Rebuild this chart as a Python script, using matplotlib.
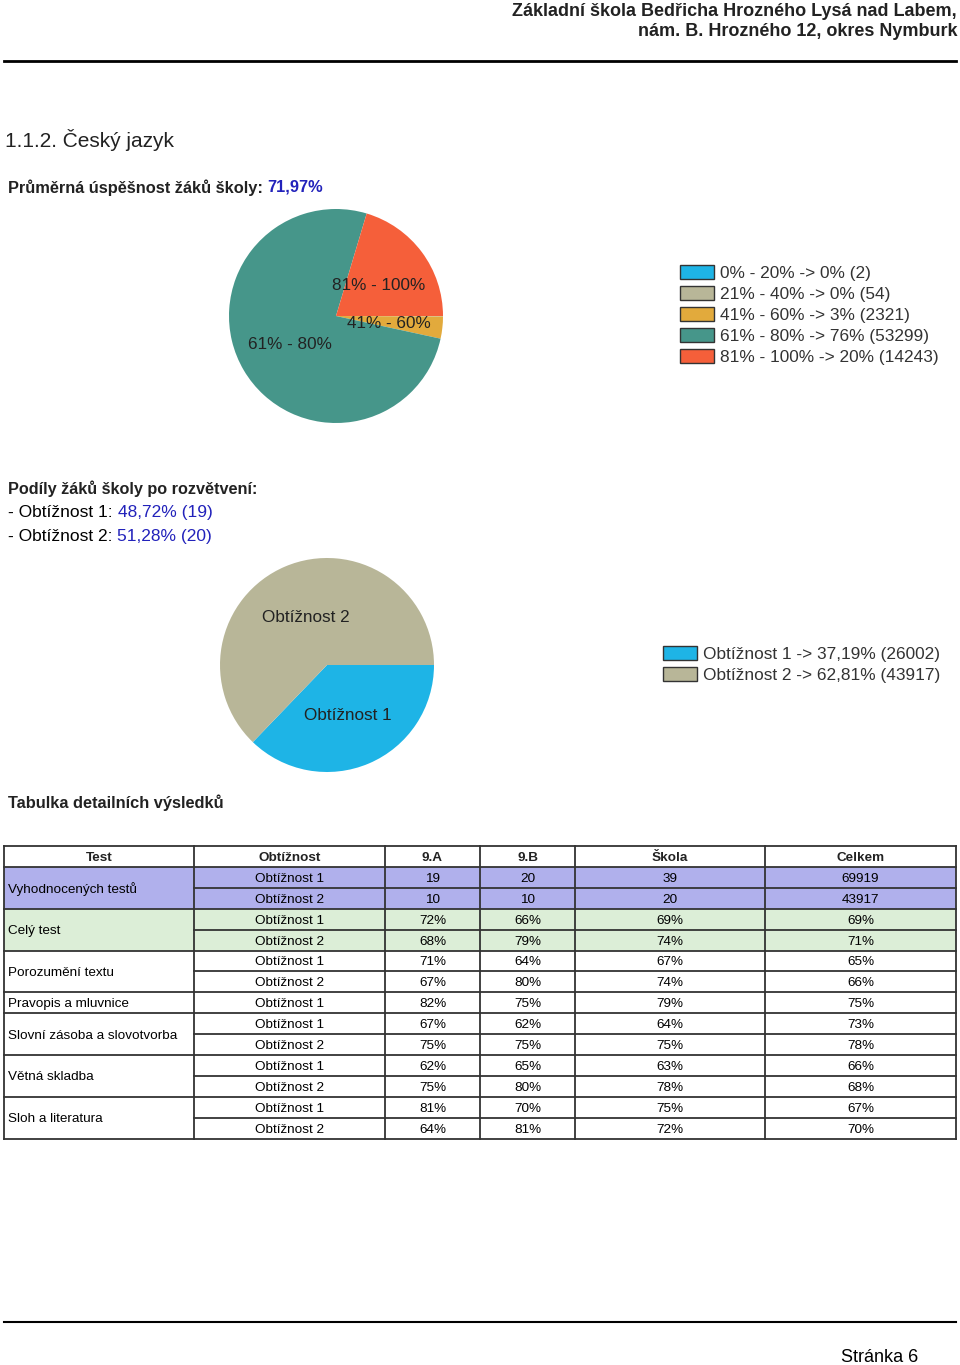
import matplotlib
matplotlib.use('Agg')
import matplotlib.pyplot as plt
from matplotlib.patches import Rectangle

plt.rcParams['font.family'] = ['Liberation Sans', 'DejaVu Sans']

# ---- data ----
pie1_labels = ['0% - 20%', '21% - 40%', '41% - 60%', '61% - 80%', '81% - 100%']
pie1_counts = [2, 54, 2321, 53299, 14243]
pie1_pct = ['0%', '0%', '3%', '76%', '20%']
pie1_colors = ['#1EB4E6', '#B8B698', '#E2AA3C', '#46968A', '#F55F3A']

pie2_labels = ['Obtížnost 1', 'Obtížnost 2']
pie2_counts = [26002, 43917]
pie2_pct = ['37,19%', '62,81%']
pie2_colors = ['#1EB4E6', '#B8B698']

avg_success = '71,97%'
branch_share = ['48,72% (19)', '51,28% (20)']

columns = ['Test', 'Obtížnost', '9.A', '9.B', 'Škola', 'Celkem']
groups = ['Vyhodnocených testů', 'Celý test', 'Porozumění textu', 'Pravopis a mluvnice',
          'Slovní zásoba a slovotvorba', 'Větná skladba', 'Sloh a literatura']
group_sizes = [2, 2, 2, 1, 2, 2, 2]
group_colors = ['#B0B0EC', '#DCEED7', 'white', 'white', 'white', 'white', 'white']
difficulty = ['Obtížnost 1', 'Obtížnost 2', 'Obtížnost 1', 'Obtížnost 2', 'Obtížnost 1', 'Obtížnost 2',
              'Obtížnost 1', 'Obtížnost 1', 'Obtížnost 2', 'Obtížnost 1', 'Obtížnost 2',
              'Obtížnost 1', 'Obtížnost 2']
val_9a = ['19', '10', '72%', '68%', '71%', '67%', '82%', '67%', '75%', '62%', '75%', '81%', '64%']
val_9b = ['20', '10', '66%', '79%', '64%', '80%', '75%', '62%', '75%', '65%', '80%', '70%', '81%']
val_skola = ['39', '20', '69%', '74%', '67%', '74%', '79%', '64%', '75%', '63%', '78%', '75%', '72%']
val_celkem = ['69919', '43917', '69%', '71%', '65%', '66%', '75%', '73%', '78%', '66%', '68%', '67%', '70%']

W, H = 960, 1365
fig = plt.figure(figsize=(W / 100, H / 100), dpi=100)
ax = fig.add_axes([0, 0, 1, 1])
ax.set_xlim(0, W)
ax.set_ylim(H, 0)
ax.axis('off')

dark = '#222222'
blue = '#2222BB'
VA = 'center_baseline'


def text_pair(x, y, first, second, fs, weight='normal', c1=dark):
    # black label followed by a blue value on the same line
    t = ax.text(x, y, first, ha='left', va=VA, fontsize=fs, color=c1, fontweight=weight)
    fig.canvas.draw()
    bb = t.get_window_extent()
    x1 = ax.transData.inverted().transform((bb.x1, 0))[0]
    ax.text(x1, y, second, ha='left', va=VA, fontsize=fs, color=blue, fontweight=weight)


# header
ax.text(957, 10, 'Základní škola Bedřicha Hrozného Lysá nad Labem,', ha='right', va=VA,
        fontsize=13, color=dark, fontweight='bold')
ax.text(957, 29, 'nám. B. Hrozného 12, okres Nymburk', ha='right', va=VA,
        fontsize=13, color=dark, fontweight='bold')
ax.plot([4, 956], [61, 61], color='black', lw=2)

ax.text(5, 138, '1.1.2. Český jazyk', ha='left', va=VA, fontsize=15, color=dark)

text_pair(8, 186, 'Průměrná úspěšnost žáků školy: ', avg_success, 11.8, weight='bold')


def draw_pie(cx, cy, r, counts, labels, colors):
    pax = fig.add_axes([(cx - r) / W, (H - cy - r) / H, 2 * r / W, 2 * r / H])
    total = sum(counts)
    shown = [lab if c / total > 0.02 else '' for c, lab in zip(counts, labels)]
    wedges, texts = pax.pie(counts, labels=shown, colors=colors, startangle=0, counterclock=False,
                            labeldistance=0.5, textprops=dict(fontsize=12.3, color=dark))
    for tx in texts:
        tx.set_ha('center')
        tx.set_va(VA)
    pax.set_xlim(-1, 1)
    pax.set_ylim(-1, 1)
    return pax


draw_pie(336, 316, 107, pie1_counts, pie1_labels, pie1_colors)

# legend 1
for i, (lab, pct, cnt, col) in enumerate(zip(pie1_labels, pie1_pct, pie1_counts, pie1_colors)):
    y = 272 + i * 21
    ax.add_patch(Rectangle((680, y - 7), 34, 14, facecolor=col, edgecolor='#333333', lw=1))
    ax.text(720, y, f'{lab} -> {pct} ({cnt})', ha='left', va=VA, fontsize=12.4, color='#333333')

# branches
ax.text(8, 487, 'Podíly žáků školy po rozvětvení:', ha='left', va=VA, fontsize=11.7,
        color=dark, fontweight='bold')
for i, s in enumerate(branch_share):
    text_pair(8, 511 + i * 24, f'- Obtížnost {i + 1}: ', s, 12.5, c1='black')

draw_pie(327, 665, 107, pie2_counts, pie2_labels, pie2_colors)

for i, (lab, pct, cnt, col) in enumerate(zip(pie2_labels, pie2_pct, pie2_counts, pie2_colors)):
    y = 653 + i * 21
    ax.add_patch(Rectangle((663, y - 7), 34, 14, facecolor=col, edgecolor='#333333', lw=1))
    ax.text(703, y, f'{lab} -> {pct} ({cnt})', ha='left', va=VA, fontsize=12.4, color='#333333')

ax.text(8, 801, 'Tabulka detailních výsledků', ha='left', va=VA, fontsize=11.8,
        color=dark, fontweight='bold')

# table
col_x = [4, 194, 385, 480, 575, 765, 956]
top = 846
rh = 20.9
line_c = '#333333'
fs = 9.7

for j, c in enumerate(columns):
    ax.text((col_x[j] + col_x[j + 1]) / 2, top + rh / 2, c, ha='center', va=VA,
            fontsize=fs, color=dark, fontweight='bold')

row = 0
for g, n, gc in zip(groups, group_sizes, group_colors):
    y0 = top + rh * (row + 1)
    ax.add_patch(Rectangle((col_x[0], y0), col_x[-1] - col_x[0], rh * n, facecolor=gc,
                           edgecolor='none', zorder=0))
    ax.text(col_x[0] + 4, y0 + rh * n / 2, g, ha='left', va=VA, fontsize=fs, color='black')
    ax.plot([col_x[0], col_x[-1]], [y0, y0], color=line_c, lw=1.3)
    for k in range(n):
        r = row + k
        yc = top + rh * (r + 1.5)
        if k > 0:
            ax.plot([col_x[1], col_x[-1]], [y0 + rh * k, y0 + rh * k], color=line_c, lw=1.3)
        vals = [difficulty[r], val_9a[r], val_9b[r], val_skola[r], val_celkem[r]]
        for j, v in enumerate(vals):
            ax.text((col_x[j + 1] + col_x[j + 2]) / 2, yc, v, ha='center', va=VA,
                    fontsize=fs, color='black')
    row += n

bottom = top + rh * (row + 1)
ax.plot([col_x[0], col_x[-1]], [top, top], color=line_c, lw=1.3)
ax.plot([col_x[0], col_x[-1]], [bottom, bottom], color=line_c, lw=1.3)
for x in col_x:
    ax.plot([x, x], [top, bottom], color=line_c, lw=1.3)

# footer
ax.plot([4, 956], [1322, 1322], color='black', lw=1.5)
ax.text(918, 1356, 'Stránka 6', ha='right', va=VA, fontsize=13, color='black')

fig.savefig('out.png', dpi=100)
